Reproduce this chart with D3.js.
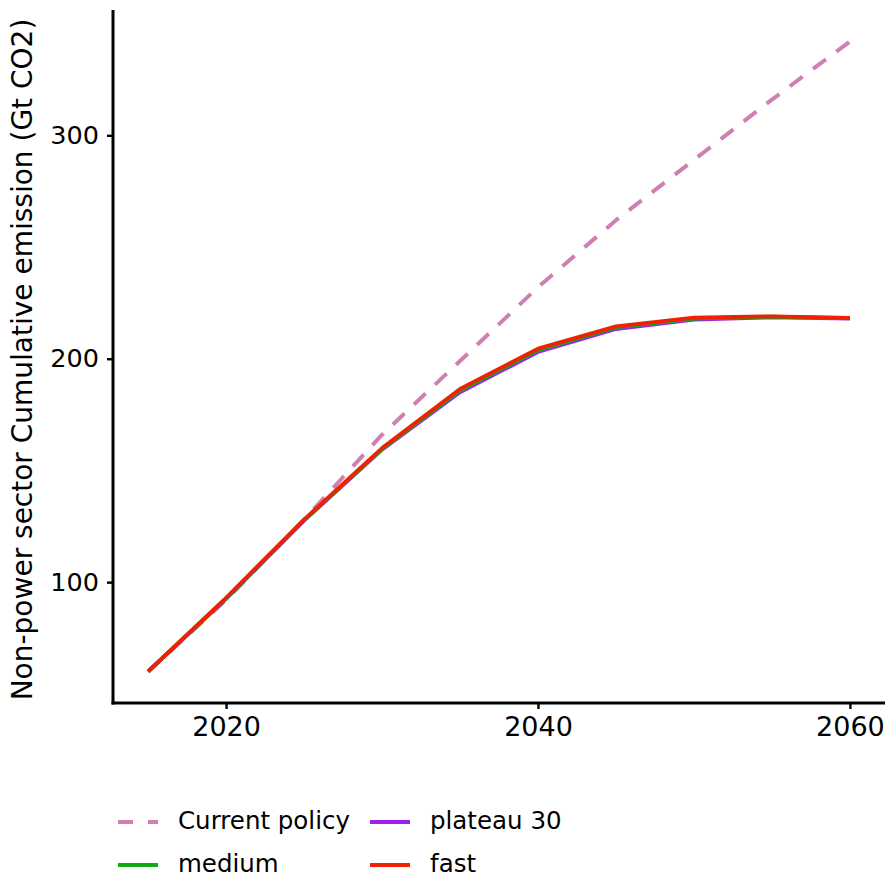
<!DOCTYPE html>
<html>
<head>
<meta charset="utf-8">
<script src="https://cdn.jsdelivr.net/npm/d3@7"></script>
<style>
  html, body { margin: 0; padding: 0; background: #ffffff; }
  svg { display: block; }
  text { font-family: "DejaVu Sans", sans-serif; fill: #000; }
</style>
</head>
<body>
<div id="chart"></div>
<script>
// ---- data ----
const years = [2015, 2020, 2025, 2030, 2035, 2040, 2045, 2050, 2055, 2060];
const currentPolicy = [60, 92, 128, 166, 199, 232, 262, 289, 316, 342];
const plateau30 = [60, 92.5, 127.5, 159.3, 185, 203, 213.3, 217.5, 218.5, 218];
const medium = [60, 92.7, 127.8, 159.6, 185.8, 203.8, 214, 218, 218.8, 218.2];
const fast = [60, 93, 128, 160, 186.5, 204.5, 214.5, 218.4, 219, 218.3];
const xTicks = [2020, 2040, 2060];
const yTicks = [100, 200, 300];
const seriesNames = ["Current policy", "plateau 30", "medium", "fast"];
const seriesColors = ["#D080B0", "#A020F0", "#10AA10", "#EE2200"];
const yTitle = "Non-power sector Cumulative emission (Gt CO2)";

(function () {
const W = 888, H = 879;
const pl = 113, pr = 885, pt = 10, pb = 703;

const svg = d3.select("#chart").append("svg").attr("width", W).attr("height", H);

const allVals = currentPolicy.concat(plateau30, medium, fast);
const xMin = d3.min(years), xMax = d3.max(years);
const yMin = d3.min(allVals), yMax = d3.max(allVals);
const xPad = (xMax - xMin) * 0.05, yPad = (yMax - yMin) * 0.05;

const x = d3.scaleLinear().domain([xMin - xPad, xMax + xPad]).range([pl, pr]);
const y = d3.scaleLinear().domain([yMin - yPad, yMax + yPad]).range([pb, pt]);

const seriesData = [currentPolicy, plateau30, medium, fast];
const line = d3.line().x((d, i) => x(years[i])).y(d => y(d));

seriesData.forEach((vals, k) => {
  svg.append("path")
    .datum(vals)
    .attr("d", line)
    .attr("fill", "none")
    .attr("stroke", seriesColors[k])
    .attr("stroke-width", k === 0 ? 4 : 3.8)
    .attr("stroke-dasharray", k === 0 ? "16,13" : null)
    .attr("stroke-linejoin", "round");
});

// axes
const xAxis = d3.axisBottom(x).tickValues(xTicks).tickFormat(d3.format("d")).tickSize(6).tickPadding(8);
const yAxis = d3.axisLeft(y).tickValues(yTicks).tickSize(6).tickPadding(8);

const gx = svg.append("g").attr("transform", `translate(0,${pb})`).call(xAxis);
const gy = svg.append("g").attr("transform", `translate(${pl},0)`).call(yAxis);

[gx, gy].forEach(g => {
  g.select(".domain").attr("stroke", "#000").attr("stroke-width", 3);
  g.selectAll(".tick line").attr("stroke", "#000").attr("stroke-width", 2.4);
  g.selectAll(".tick text").attr("fill", "#000")
    .attr("font-family", "DejaVu Sans, sans-serif");
});
gx.selectAll(".tick text").attr("font-size", 27);
gy.selectAll(".tick text").attr("font-size", 25.5);
gy.select(".domain").attr("d", `M0,${pt}V${pb + 1.5}`);
gx.select(".domain").attr("d", `M${pl - 1.5},0H${pr}`);

// y title
svg.append("text")
  .attr("transform", `translate(32,${(pt + pb) / 2 + 3}) rotate(-90)`)
  .attr("text-anchor", "middle")
  .attr("font-size", 28)
  .text(yTitle);

// legend
const legendPos = [
  { kx: 118, ty: 822 }, { kx: 370, ty: 822 },
  { kx: 118, ty: 865 }, { kx: 370, ty: 865 }
];
seriesNames.forEach((name, k) => {
  const p = legendPos[k];
  svg.append("line")
    .attr("x1", p.kx).attr("x2", p.kx + 40)
    .attr("y1", p.ty).attr("y2", p.ty)
    .attr("stroke", seriesColors[k])
    .attr("stroke-width", 4)
    .attr("stroke-dasharray", k === 0 ? "15,15" : null);
  svg.append("text")
    .attr("x", p.kx + 60).attr("y", p.ty)
    .attr("dy", "0.3em")
    .attr("font-size", 24.5)
    .text(name);
});
})();
</script>
</body>
</html>
